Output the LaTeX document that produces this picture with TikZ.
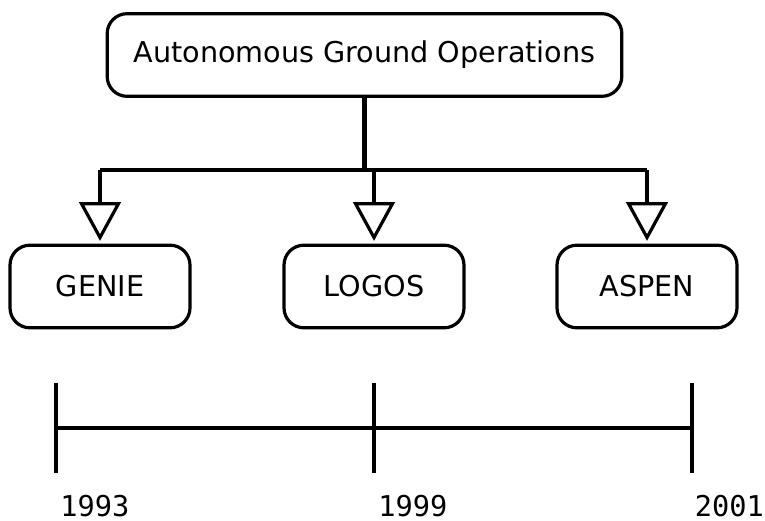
\documentclass[tikz,border=0pt]{standalone}
\usepackage{fontspec}
\setmainfont{DejaVu Sans}
\newfontfamily\yearfont{DejaVu Sans Mono}
\usetikzlibrary{arrows.meta}
\tikzset{
    unitbox/.style={draw, line width=2.4pt, rounded corners=15pt, minimum height=62pt, font=\fontsize{21.5}{24}\selectfont},
    feed/.style={line width=3.2pt},
    drop/.style={feed, -{Triangle[open, length=29pt, width=31pt, line width=2.4pt]}, shorten >=2pt},
    year/.style={anchor=base west, inner sep=0pt, font=\yearfont\fontsize{21.5}{24}\selectfont}
}
\begin{document}
\begin{tikzpicture}[x=0.75pt, y=-0.75pt]
            \useasboundingbox                                          (0, 0) rectangle (765, 521);
            \node[unitbox, minimum width=386pt] (ago)   at (364.5,  55.0) {Autonomous Ground Operations};
            \node[unitbox, minimum width=135pt] (genie) at (100.0, 286.5) {GENIE};
            \node[unitbox, minimum width=135pt] (logos) at (374.0, 286.5) {LOGOS};
            \node[unitbox, minimum width=135pt] (aspen) at (647.0, 286.5) {ASPEN};
            % tree
            \coordinate (bus) at (364.5, 170);
            \draw[feed] (ago.south) -- (bus);
            \draw[feed] (genie.north |- bus) -- (aspen.north |- bus);
            \foreach \unit in {genie, logos, aspen}
                \draw[drop] (\unit.north |- bus) -- (\unit.north);
            % timeline
            \coordinate (t93) at ( 56, 428);
            \coordinate (t99) at (374, 428);
            \coordinate (t01) at (692, 428);
            \draw[feed] (t93) -- (t01);
            \foreach \tick in {t93, t99, t01}
                \draw[line width=2.4pt] ([yshift=34pt]\tick) -- ([yshift=-34pt]\tick);
            \node[year] (y93) at ([xshift=3pt]t93 |- 0,516) {1993};
            \node[year] (y99) at ([xshift=3pt]t99 |- 0,516) {1999};
            \node[year] (y01) at ([xshift=2pt]t01 |- 0,516) {2001};
        \end{tikzpicture}
\end{document}
